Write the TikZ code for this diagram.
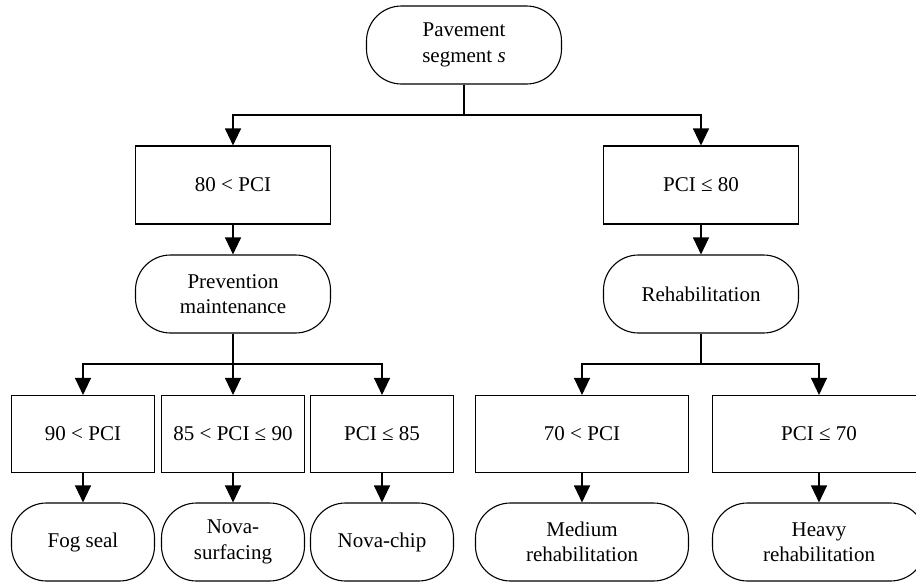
\documentclass[tikz,border=0pt]{standalone}
\usepackage{fontspec}
\setmainfont{Liberation Serif}
\usetikzlibrary{arrows.meta}
\tikzset{
    every node/.style={font=\fontsize{21}{25.5}\selectfont, align=center, inner sep=0pt},
    cond/.style={draw, line width=1.1pt, minimum width=195pt, minimum height=78pt},
    term/.style={cond, rounded corners=35pt},
    arr/.style={-{Triangle[length=17pt,width=16pt]}, line width=1.1pt},
    link/.style={line width=1.1pt}
}

\begin{document}
\begin{tikzpicture}[x=1pt,y=-1pt]
	\useasboundingbox (0,0) rectangle (916,582);
	\node[term] at (464,45) (seg) {Pavement\\segment \textit{s}};
	\node[cond] at (233,185) (hi) {80 < PCI};
	\node[cond] at (701,185) (lo) {PCI ≤ 80};
	\node[term] at (233,294) (prev) {Prevention\\maintenance};
	\node[term] at (701,294) (rehab) {Rehabilitation};
	\node[cond, minimum width=143pt, minimum height=77pt] at (83,434) (c1) {90 < PCI};
	\node[cond, minimum width=143pt, minimum height=77pt] at (233,434) (c2) {85 < PCI ≤ 90};
	\node[cond, minimum width=143pt, minimum height=77pt] at (382,434) (c3) {PCI ≤ 85};
	\node[cond, minimum width=213pt, minimum height=77pt] at (582,434) (d1) {70 < PCI};
	\node[cond, minimum width=213pt, minimum height=77pt] at (819,434) (d2) {PCI ≤ 70};
	\node[term, minimum width=143pt] at (83,542) (fog) {Fog seal};
	\node[term, minimum width=143pt] at (233,542) (surf) {Nova-\\surfacing};
	\node[term, minimum width=143pt] at (382,542) (chip) {Nova-chip};
	\node[term, minimum width=213pt] at (582,542) (med) {Medium\\rehabilitation};
	\node[term, minimum width=213pt] at (819,542) (heavy) {Heavy\\rehabilitation};
	\coordinate (j1) at (464,115);
	\coordinate (j2) at (233,364);
	\coordinate (j3) at (701,364);
	% first split
	\draw[link] (seg) -- (j1);
	\draw[arr] (j1) -| (hi);
	\draw[arr] (j1) -| (lo);
	\draw[arr] (hi) -- (prev);
	\draw[arr] (lo) -- (rehab);
	% prevention branch
	\draw[link] (prev) -- (j2);
	\draw[arr] (j2) -| (c1);
	\draw[arr] (j2) -- (c2);
	\draw[arr] (j2) -| (c3);
	% rehabilitation branch
	\draw[link] (rehab) -- (j3);
	\draw[arr] (j3) -| (d1);
	\draw[arr] (j3) -| (d2);
	\draw[arr] (c1) -- (fog);
	\draw[arr] (c2) -- (surf);
	\draw[arr] (c3) -- (chip);
	\draw[arr] (d1) -- (med);
	\draw[arr] (d2) -- (heavy);
\end{tikzpicture}
\end{document}
